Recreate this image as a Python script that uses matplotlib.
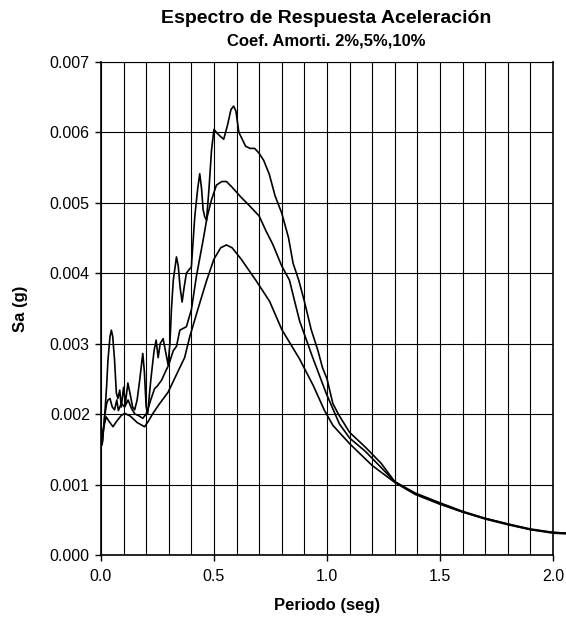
import matplotlib
matplotlib.use("Agg")
import matplotlib.pyplot as plt
from matplotlib.ticker import MultipleLocator, FormatStrFormatter

plt.rcParams['font.family'] = ['Liberation Sans', 'DejaVu Sans']

# periodo (seg) y Sa (g)
t_2 = [0.005, 0.015, 0.025, 0.031, 0.040, 0.046, 0.052, 0.060, 0.068, 0.075,
       0.083, 0.090, 0.100, 0.108, 0.119, 0.128, 0.140, 0.149, 0.160, 0.172,
       0.185, 0.192, 0.200, 0.207, 0.215, 0.222, 0.235, 0.244, 0.253, 0.262,
       0.275, 0.285, 0.297, 0.305, 0.312, 0.320, 0.334, 0.342, 0.350, 0.359,
       0.368, 0.378, 0.400, 0.415, 0.428, 0.437, 0.445, 0.452, 0.459, 0.467,
       0.478, 0.489, 0.500, 0.510, 0.525, 0.543, 0.560, 0.575, 0.587, 0.597,
       0.610, 0.625, 0.640, 0.660, 0.680, 0.700, 0.720, 0.745, 0.770, 0.800,
       0.830, 0.850, 0.875, 0.900, 0.930, 0.960, 0.980, 1.000, 1.026, 1.050,
       1.100, 1.170, 1.240, 1.300, 1.390, 1.500, 1.600, 1.700, 1.800, 1.900,
       2.000, 2.060]
sa_2 = [0.00157, 0.0019, 0.0024, 0.00277, 0.0031, 0.00319, 0.0031, 0.00277, 0.0023, 0.00222,
        0.00234, 0.0021, 0.00238, 0.00215, 0.00244, 0.0023, 0.0021, 0.00206, 0.0022, 0.0025,
        0.00286, 0.0026, 0.0021, 0.00201, 0.0023, 0.00253, 0.0029, 0.00305, 0.0028, 0.0030,
        0.00307, 0.0029, 0.0027, 0.0030, 0.0035, 0.0039, 0.00423, 0.0041, 0.0038, 0.00359,
        0.0038, 0.0040, 0.00409, 0.0048, 0.0052, 0.00541, 0.0052, 0.0049, 0.0048, 0.00475,
        0.0052, 0.00574, 0.00604, 0.00600, 0.00595, 0.0059, 0.0061, 0.00632, 0.00637, 0.0063,
        0.0060, 0.0059, 0.0058, 0.00577, 0.00577, 0.0057, 0.0056, 0.0054, 0.0051, 0.00485,
        0.0045, 0.00414, 0.0039, 0.0036, 0.0032, 0.0029, 0.00266, 0.0025, 0.00215, 0.0020,
        0.00174, 0.00153, 0.0013, 0.00104, 0.00088, 0.00074, 0.00062, 0.00052, 0.00044, 0.00037,
        0.00032, 0.00031]

t_5 = [0.005, 0.016, 0.025, 0.031, 0.040, 0.050, 0.060, 0.070, 0.077, 0.090,
       0.105, 0.120, 0.135, 0.150, 0.165, 0.185, 0.200, 0.207, 0.220, 0.237,
       0.250, 0.268, 0.285, 0.300, 0.320, 0.334, 0.349, 0.378, 0.400, 0.422,
       0.452, 0.470, 0.489, 0.511, 0.535, 0.555, 0.580, 0.616, 0.650, 0.700,
       0.730, 0.760, 0.800, 0.834, 0.857, 0.879, 0.937, 0.997, 1.055, 1.100,
       1.170, 1.240, 1.300, 1.390, 1.500, 1.600, 1.700, 1.800, 1.900, 2.000,
       2.060]
sa_5 = [0.00157, 0.00196, 0.00215, 0.0022, 0.00222, 0.0021, 0.00206, 0.0022, 0.00205, 0.00215,
        0.0021, 0.0022, 0.00208, 0.0020, 0.00198, 0.00194, 0.0020, 0.00206, 0.0022, 0.00236,
        0.0024, 0.00248, 0.0026, 0.0027, 0.0029, 0.00296, 0.00319, 0.00324, 0.00348, 0.00395,
        0.00447, 0.0048, 0.00504, 0.00525, 0.0053, 0.0053, 0.00522, 0.00509, 0.00498, 0.00481,
        0.0046, 0.00441, 0.0041, 0.0039, 0.0036, 0.00332, 0.0028, 0.00229, 0.00186, 0.00166,
        0.00147, 0.00124, 0.00104, 0.00087, 0.00073, 0.00061, 0.00052, 0.00044, 0.00036, 0.00032,
        0.00031]

t_10 = [0.005, 0.009, 0.023, 0.035, 0.053, 0.070, 0.090, 0.105, 0.130, 0.160,
        0.193, 0.210, 0.230, 0.260, 0.297, 0.340, 0.370, 0.393, 0.430, 0.467,
        0.500, 0.530, 0.555, 0.580, 0.620, 0.687, 0.746, 0.800, 0.879, 0.940,
        0.989, 1.026, 1.100, 1.200, 1.300, 1.390, 1.500, 1.600, 1.700, 1.800,
        1.900, 2.000, 2.060]
sa_10 = [0.00157, 0.00177, 0.00196, 0.0019, 0.00182, 0.0019, 0.00198, 0.00201, 0.00197, 0.00188,
         0.00182, 0.0019, 0.00201, 0.00215, 0.00231, 0.0026, 0.0028, 0.0031, 0.0035, 0.00389,
         0.0042, 0.00436, 0.0044, 0.00436, 0.0042, 0.00389, 0.0036, 0.0032, 0.00278, 0.0024,
         0.00205, 0.00184, 0.00158, 0.00127, 0.00103, 0.00086, 0.00072, 0.00061, 0.00051, 0.00043,
         0.00036, 0.00031, 0.00030]

fig = plt.figure(figsize=(5.66, 6.35), dpi=100)
ax = fig.add_axes([0.1784, 0.126, 0.7986, 0.7768])

for t, sa in [(t_2, sa_2), (t_5, sa_5), (t_10, sa_10)]:
    ax.plot(t, sa, color='black', lw=1.2, clip_on=False, zorder=3)

ax.set_xlim(0, 2.0)
ax.set_ylim(0, 0.007)
ax.xaxis.set_major_locator(MultipleLocator(0.5))
ax.xaxis.set_minor_locator(MultipleLocator(0.1))
ax.yaxis.set_major_locator(MultipleLocator(0.001))
ax.xaxis.set_major_formatter(FormatStrFormatter('%.1f'))
ax.yaxis.set_major_formatter(FormatStrFormatter('%.3f'))

ax.grid(which='major', color='black', lw=0.8)
ax.grid(which='minor', axis='x', color='black', lw=0.8)
ax.tick_params(which='major', direction='out', length=4, width=1, labelsize=11.5)
ax.tick_params(axis='x', pad=6)
ax.tick_params(axis='y', pad=4)
ax.tick_params(which='minor', length=0)
for s in ax.spines.values():
    s.set_linewidth(1.2)
ax.spines['top'].set_linewidth(0.8)

ax.set_xlabel('Periodo (seg)', fontsize=12, fontweight='bold', labelpad=10)
ax.set_ylabel('Sa (g)', fontsize=12, fontweight='bold', labelpad=16)

fig.text(0.577, 0.971, 'Espectro de Respuesta Aceleración', ha='center', va='center',
         fontsize=14, fontweight='bold')
fig.text(0.577, 0.936, 'Coef. Amorti. 2%,5%,10%', ha='center', va='center',
         fontsize=12, fontweight='bold')

fig.savefig('out.png', dpi=100)
